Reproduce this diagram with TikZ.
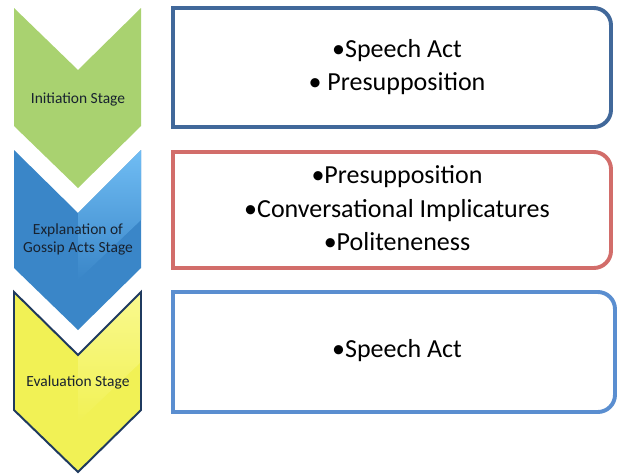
\documentclass[tikz,border=0pt]{standalone}
\usepackage{fontspec}
\setmainfont{Carlito}
\usepackage{tikz}
\usetikzlibrary{calc}
\definecolor{stgreen}{HTML}{A9D270}
\definecolor{stblue}{HTML}{3A86C8}
\definecolor{stbluehi}{HTML}{70BDF4}
\definecolor{styellow}{HTML}{F1F155}
\definecolor{styellowhi}{HTML}{F9F98E}
\definecolor{stnavy}{HTML}{1F3A5F}
\definecolor{stink}{HTML}{18222F}
\definecolor{boxnavy}{HTML}{41689A}
\definecolor{boxred}{HTML}{D26D6A}
\definecolor{boxblue}{HTML}{5A8ED0}

\begin{document}
\begin{tikzpicture}[x=0.025cm,y=-0.025cm,
		stagelabel/.style={font=\fontsize{11}{12.5}\selectfont,align=center,text=stink},
		boxlabel/.style={font=\fontsize{18.5}{23.8}\selectfont,align=center},
		boxline/.style={line width=2.8pt}]
			\useasboundingbox[fill=white] (0,0) rectangle (619,475);
			
			\fill[stgreen] (14,8) -- ++(64,62) -- ++(63,-62) -- ++(0,118) -- ++(-63,62) -- ++(-64,-62) -- cycle;
			
			\fill[stblue] (14,150) -- ++(64,63) -- ++(63,-63) -- ++(0,118) -- ++(-63,62) -- ++(-64,-62) -- cycle;
			\shade[top color=stbluehi,bottom color=stblue] (78,213) -- ++(63,-63) -- ++(0,70) -- ++(-63,60) -- cycle;
			
			\fill[styellow] (14,292) -- ++(64,63) -- ++(63,-63) -- ++(0,118) -- ++(-63,62) -- ++(-64,-62) -- cycle;
			\shade[top color=styellowhi,bottom color=styellow] (78,355) -- ++(63,-63) -- ++(0,70) -- ++(-63,60) -- cycle;
			\draw[stnavy,line width=1.4pt,line join=miter] (14,292) -- ++(64,63) -- ++(63,-63) -- ++(0,118) -- ++(-63,62) -- ++(-64,-62) -- cycle;
			
			\node[stagelabel] (initiation) at (78,99) {Initiation Stage};
			\node[stagelabel] (explanation) at (78,239.5) {Explanation of\\Gossip Acts Stage};
			\node[stagelabel] (evaluation) at (78,382) {Evaluation Stage};
			
			\draw[boxline,boxnavy] (173,127) -- (173,8) [rounded corners=0.43cm] -- (611,8) -- (611,127) [sharp corners] -- cycle;
			\draw[boxline,boxred] (173,268) -- (173,152) [rounded corners=0.43cm] -- (611,152) -- (611,268) [sharp corners] -- cycle;
			\draw[boxline,boxblue] (173,412) -- (173,292) [rounded corners=0.43cm] -- (615,292) -- (615,412) [sharp corners] -- cycle;
			
			\node[boxlabel] (initiationacts) at (397,67) {•Speech Act\\• Presupposition};
			\node[boxlabel] (explanationacts) at (397,208.5) {•Presupposition\\•Conversational Implicatures\\•Politeneness};
			\node[boxlabel] (evaluationacts) at (397,351) {•Speech Act};
		\end{tikzpicture}
\end{document}
